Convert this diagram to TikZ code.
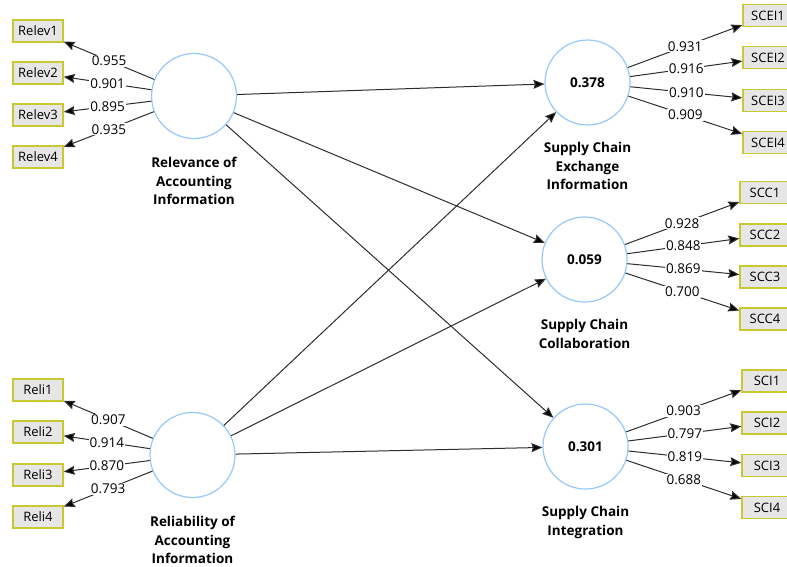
\documentclass[tikz,border=0pt]{standalone}
\usepackage{fontspec}
\setmainfont{Open Sans}
\usetikzlibrary{arrows.meta}
\definecolor{circblue}{RGB}{150,200,250}
\definecolor{boxedge}{RGB}{200,200,50}
\definecolor{boxfill}{RGB}{230,230,230}
\definecolor{linegray}{RGB}{45,45,45}
\tikzset{
  lv/.style={circle, draw=circblue, line width=1.2pt, fill=white, minimum size=85pt, inner sep=0pt,
     font=\fontsize{13.5}{16}\selectfont\bfseries},
  lvlabel/.style={align=center, font=\fontsize{13.5}{18.5}\selectfont\bfseries, inner sep=0pt},
  ind/.style={rectangle, draw=boxedge, line width=1.5pt, fill=boxfill, minimum width=50pt, minimum height=22pt,
     inner sep=0pt, font=\fontsize{13}{16}\selectfont},
  conn/.style={draw=linegray, line width=1pt, -{Stealth[length=11pt,width=9pt,inset=1.5pt,fill=black]}},
  wt/.style={fill=white, inner sep=1pt, font=\fontsize{13.5}{16}\selectfont, pos=0.5}
}
\begin{document}
\begin{tikzpicture}[x=1pt,y=-1pt]
\useasboundingbox (0,0) rectangle (787,566);
\clip (0,0) rectangle (787,566);
% latent variables
\node[lv] (relev) at (194,96) {};
\node[lv] (reli) at (192.5,455) {};
\node[lv] (scei) at (587.5,82.5) {0.378};
\node[lv] (scc) at (584.5,259.5) {0.059};
\node[lv] (sci) at (585.5,446.5) {0.301};
\node[lvlabel] (relevl) at (194,181) {Relevance of\\Accounting\\Information};
\node[lvlabel] (relil) at (192.5,540) {Reliability of\\Accounting\\Information};
\node[lvlabel] (sceil) at (587.5,166) {Supply Chain\\Exchange\\Information};
\node[lvlabel] (sccl) at (584.5,334) {Supply Chain\\Collaboration};
\node[lvlabel] (scil) at (585.5,522.5) {Supply Chain\\Integration};
% indicators
\node[ind] (r1) at (38,31) {Relev1};
\node[ind] (r2) at (38,73) {Relev2};
\node[ind] (r3) at (38,115) {Relev3};
\node[ind] (r4) at (38,157) {Relev4};
\node[ind] (l1) at (38,390) {Reli1};
\node[ind] (l2) at (38,432) {Reli2};
\node[ind] (l3) at (38,475) {Reli3};
\node[ind] (l4) at (38,517) {Reli4};
\node[ind] (e1) at (768,15.5) {SCEI1};
\node[ind] (e2) at (768,57.5) {SCEI2};
\node[ind] (e3) at (768,100.5) {SCEI3};
\node[ind] (e4) at (768,142.5) {SCEI4};
\node[ind] (c1) at (765,192.5) {SCC1};
\node[ind] (c2) at (765,235) {SCC2};
\node[ind] (c3) at (765,277) {SCC3};
\node[ind] (c4) at (765,319) {SCC4};
\node[ind] (i1) at (767,381) {SCI1};
\node[ind] (i2) at (767,423) {SCI2};
\node[ind] (i3) at (767,465.5) {SCI3};
\node[ind] (i4) at (767,507.5) {SCI4};
% structural paths
\draw[conn] (relev) -- (scei);
\draw[conn] (relev) -- (scc);
\draw[conn] (relev) -- (sci);
\draw[conn] (reli) -- (scei);
\draw[conn] (reli) -- (scc);
\draw[conn] (reli) -- (sci);
% loadings
\draw[conn] (relev) -- node[wt]{0.955} (r1);
\draw[conn] (relev) -- node[wt]{0.901} (r2);
\draw[conn] (relev) -- node[wt]{0.895} (r3);
\draw[conn] (relev) -- node[wt]{0.935} (r4);
\draw[conn] (reli) -- node[wt]{0.907} (l1);
\draw[conn] (reli) -- node[wt]{0.914} (l2);
\draw[conn] (reli) -- node[wt]{0.870} (l3);
\draw[conn] (reli) -- node[wt]{0.793} (l4);
\draw[conn] (scei) -- node[wt]{0.931} (e1);
\draw[conn] (scei) -- node[wt]{0.916} (e2);
\draw[conn] (scei) -- node[wt]{0.910} (e3);
\draw[conn] (scei) -- node[wt]{0.909} (e4);
\draw[conn] (scc) -- node[wt]{0.928} (c1);
\draw[conn] (scc) -- node[wt]{0.848} (c2);
\draw[conn] (scc) -- node[wt]{0.869} (c3);
\draw[conn] (scc) -- node[wt]{0.700} (c4);
\draw[conn] (sci) -- node[wt]{0.903} (i1);
\draw[conn] (sci) -- node[wt]{0.797} (i2);
\draw[conn] (sci) -- node[wt]{0.819} (i3);
\draw[conn] (sci) -- node[wt]{0.688} (i4);
\end{tikzpicture}
\end{document}
